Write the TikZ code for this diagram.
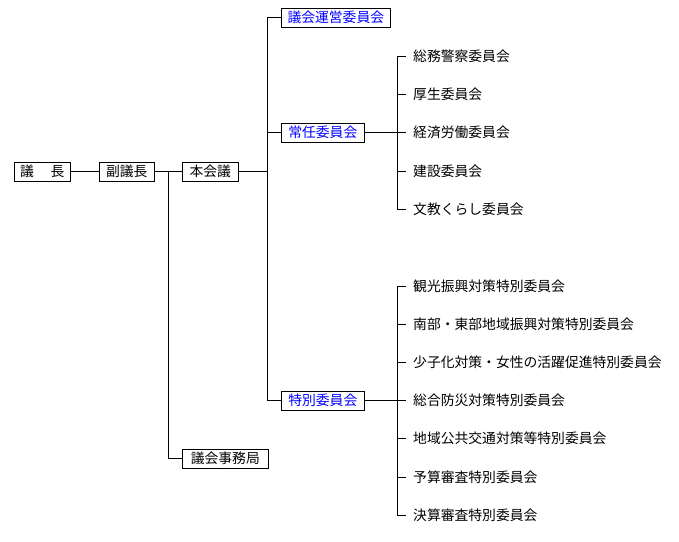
\documentclass[tikz,border=0pt]{standalone}
\usepackage{fontspec}
\setmainfont{Noto Sans CJK JP}
\begin{document}
\begin{tikzpicture}[x=1pt,y=-1pt,
  bx/.style={draw,line width=0.6pt,inner sep=0pt,minimum height=19pt,font=\fontsize{13.8}{15}\selectfont,anchor=west},
  lnk/.style={bx,text=blue},
  lb/.style={inner sep=0pt,anchor=west,font=\fontsize{13.8}{15}\selectfont},
  ln/.style={line width=0.6pt}]
\useasboundingbox (0,0) rectangle (679,541);
\node[bx,minimum width=56pt] (gicho) at (14,171.5) {議\hspace{1.2em}長};
\node[bx,minimum width=55pt] (fuku) at (99,171.5) {副議長};
\node[bx,minimum width=56pt] (honkai) at (182,171.5) {本会議};
\node[bx,minimum width=86pt] (jimu) at (182,458.5) {議会事務局};
\node[lnk,minimum width=109pt] (unei) at (281,17.5) {議会運営委員会};
\node[lnk,minimum width=83pt] (jonin) at (281,132.5) {常任委員会};
\node[lnk,minimum width=83pt] (tokube) at (281,400.5) {特別委員会};
\coordinate (v1) at (168,171.5);
\coordinate (v2) at (267,171.5);
\coordinate (v3) at (397,132.5);
\coordinate (v4) at (397,400.5);
\draw[ln] (gicho) -- (fuku);
\draw[ln] (fuku) -- (honkai);
\draw[ln] (v1) |- (jimu);
\draw[ln] (honkai) -- (v2);
\draw[ln] (v2) |- (unei);
\draw[ln] (v2) |- (tokube);
\draw[ln] (v2 |- jonin) -- (jonin);
\draw[ln] (jonin) -- (v3);
\draw[ln] (tokube) -- (v4);
\foreach \n/\y/\t in {a/56/総務警察委員会,b/94/厚生委員会,c/132.5/経済労働委員会,d/171/建設委員会,e/209/文教くらし委員会}{
  \node[lb] (\n) at (413,\y) {\t};
  \draw[ln] (397,\y) -- ([xshift=-7pt]\n.west);
}
\draw[ln] (397,56) -- (397,209);
\foreach \n/\y/\t in {f/286/観光振興対策特別委員会,g/324/南部・東部地域振興対策特別委員会,h/362/少子化対策・女性の活躍促進特別委員会,i/400.5/総合防災対策特別委員会,j/438/地域公共交通対策等特別委員会,k/477/予算審査特別委員会,l/515/決算審査特別委員会}{
  \node[lb] (\n) at (413,\y) {\t};
  \draw[ln] (397,\y) -- ([xshift=-7pt]\n.west);
}
\draw[ln] (397,286) -- (397,515);
\end{tikzpicture}
\end{document}
